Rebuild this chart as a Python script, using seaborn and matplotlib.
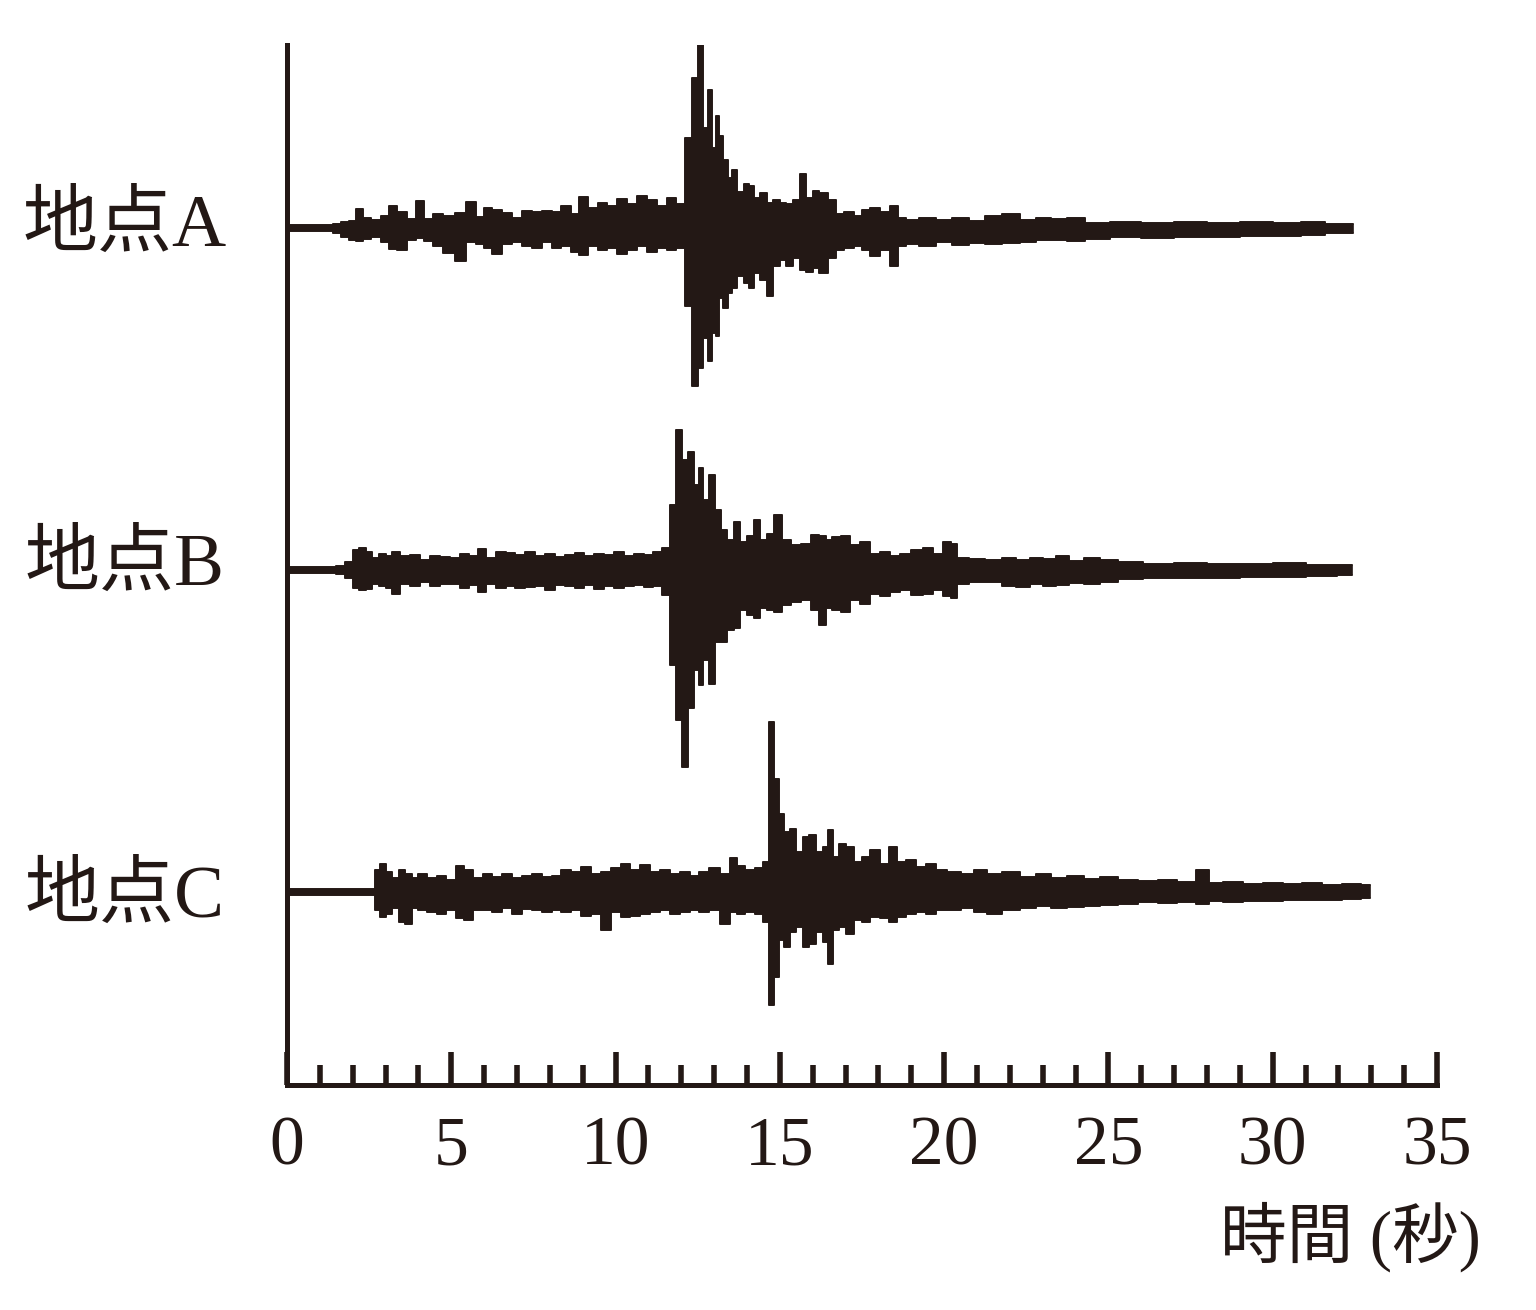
import matplotlib
matplotlib.use("Agg")
import matplotlib.pyplot as plt
import numpy as np
import seaborn as sns
from matplotlib.ticker import MultipleLocator

# seismogram envelopes: time (s), amplitude above / below the trace line
stations = ["地点A", "地点B", "地点C"]
baselines = [857, 515, 193]

a_t = [0, 1.3, 1.5, 1.8, 2.0, 2.2, 2.4, 2.7, 3.0, 3.2, 3.5, 3.8, 4.05, 4.3, 4.6, 4.9, 5.3, 5.6, 5.9,
       6.1, 6.4, 6.7, 7.0, 7.3, 7.6, 7.9, 8.2, 8.5, 8.8, 9.0, 9.3, 9.6, 9.9, 10.2, 10.5, 10.8, 11.1,
       11.4, 11.7, 12.0, 12.25, 12.4, 12.6, 12.75, 12.85, 13.0, 13.1, 13.2, 13.35, 13.5, 13.6, 13.8,
       14.0, 14.1, 14.3, 14.5, 14.7, 14.9, 15.1, 15.3, 15.5, 15.7, 15.9, 16.1, 16.3, 16.6, 16.8,
       17.1, 17.4, 17.6, 17.9, 18.2, 18.5, 18.7, 19.0, 19.5, 20.0, 20.5, 21.0, 21.5, 22.0, 22.6,
       23.0, 23.5, 24.0, 24.6, 25.5, 26.5, 27.5, 28.5, 29.5, 30.5, 31.2, 32.0, 32.45]
a_up = [3, 3, 4, 6, 7, 19, 10, 8, 12, 22, 16, 9, 27, 9, 14, 12, 15, 26, 11,
        20, 18, 15, 10, 17, 16, 17, 16, 22, 14, 31, 20, 25, 22, 29, 24, 32, 28,
        22, 30, 24, 90, 150, 202, 100, 138, 80, 112, 92, 68, 50, 58, 36,
        44, 42, 30, 35, 25, 28, 25, 24, 28, 54, 30, 37, 35, 28, 14,
        16, 12, 18, 20, 16, 22, 10, 8, 10, 8, 10, 7, 12, 14, 8,
        10, 9, 10, 5, 6, 5, 6, 5, 6, 5, 6, 4, 4]
a_dn = [3, 3, 5, 9, 12, 13, 11, 9, 14, 21, 22, 12, 10, 13, 18, 25, 33, 14, 16,
        20, 26, 16, 14, 18, 20, 14, 20, 18, 24, 27, 18, 22, 20, 26, 22, 18, 24,
        20, 22, 20, 78, 158, 140, 110, 133, 105, 108, 70, 80, 65, 60, 48,
        55, 60, 45, 52, 68, 38, 32, 38, 30, 42, 44, 40, 45, 30, 22,
        20, 18, 22, 28, 22, 38, 18, 16, 18, 14, 17, 15, 16, 15, 14,
        12, 12, 13, 11, 9, 10, 9, 9, 8, 8, 7, 5, 5]

b_t = [0, 1.4, 1.6, 1.9, 2.1, 2.3, 2.5, 2.7, 2.9, 3.1, 3.3, 3.6, 3.9, 4.2, 4.5, 4.8, 5.1, 5.4, 5.7,
       5.9, 6.2, 6.5, 6.8, 7.1, 7.4, 7.7, 8.0, 8.3, 8.6, 8.9, 9.2, 9.5, 9.8, 10.1, 10.4, 10.7, 11.0,
       11.3, 11.55, 11.75, 11.95, 12.1, 12.3, 12.45, 12.6, 12.75, 12.95, 13.1, 13.3, 13.5, 13.7,
       13.9, 14.1, 14.3, 14.5, 14.7, 14.95, 15.2, 15.5, 15.8, 16.1, 16.3, 16.5, 16.7, 17.0, 17.3,
       17.6, 17.9, 18.2, 18.5, 18.8, 19.2, 19.5, 19.8, 20.1, 20.3, 20.5, 21.0, 21.5, 22.0, 22.4,
       22.8, 23.2, 23.6, 24.0, 24.5, 25.0, 25.6, 26.5, 27.5, 28.5, 29.5, 30.5, 31.5, 32.4]
b_up = [3, 3, 4, 8, 20, 22, 18, 12, 16, 14, 18, 14, 15, 10, 14, 13, 12, 16, 14,
        21, 12, 18, 17, 15, 18, 14, 16, 13, 15, 17, 14, 16, 15, 18, 14, 16, 15,
        18, 22, 65, 140, 110, 118, 85, 102, 70, 95, 60, 40, 30, 48,
        28, 34, 50, 30, 36, 55, 30, 25, 26, 35, 34, 30, 33, 34, 25,
        28, 16, 18, 14, 16, 20, 22, 16, 28, 26, 12, 11, 10, 12, 10,
        12, 11, 14, 9, 12, 10, 8, 6, 7, 6, 6, 7, 5, 5]
b_dn = [3, 3, 4, 8, 18, 20, 19, 14, 16, 18, 24, 14, 16, 12, 16, 14, 14, 18, 15,
        22, 14, 18, 16, 18, 17, 16, 20, 15, 16, 18, 15, 19, 16, 18, 16, 15, 17,
        16, 25, 95, 150, 197, 138, 100, 115, 90, 114, 72, 72, 60, 58,
        40, 45, 48, 38, 40, 42, 35, 32, 30, 40, 55, 38, 40, 42, 30,
        34, 24, 26, 22, 20, 25, 24, 20, 26, 28, 14, 12, 12, 16, 17,
        14, 16, 15, 13, 14, 12, 9, 8, 8, 8, 7, 7, 6, 5]

c_t = [0, 2.6, 2.75, 2.9, 3.1, 3.3, 3.5, 3.7, 3.9, 4.1, 4.4, 4.7, 5.0, 5.3, 5.5, 5.8, 6.1, 6.4,
       6.7, 7.0, 7.3, 7.6, 7.9, 8.2, 8.5, 8.8, 9.1, 9.4, 9.7, 10.0, 10.3, 10.6, 10.9, 11.2, 11.5,
       11.8, 12.1, 12.4, 12.7, 13.0, 13.35, 13.6, 13.8, 14.1, 14.4, 14.6, 14.75, 14.9, 15.05, 15.2,
       15.4, 15.6, 15.8, 16.0, 16.2, 16.4, 16.55, 16.7, 16.9, 17.1, 17.4, 17.6, 17.9, 18.2, 18.45,
       18.7, 19.0, 19.3, 19.6, 19.9, 20.3, 20.7, 21.1, 21.5, 22.0, 22.6, 23.0, 23.5, 24.0, 24.5,
       25.0, 25.6, 26.2, 26.8, 27.4, 27.9, 28.2, 28.8, 29.4, 30.0, 30.6, 31.2, 31.8, 32.4, 32.95]
c_up = [3, 3, 22, 28, 20, 14, 22, 18, 14, 18, 14, 16, 12, 26, 22, 14, 18, 15,
        18, 14, 16, 18, 15, 16, 22, 20, 25, 18, 20, 24, 28, 22, 27, 20, 22,
        18, 20, 16, 20, 24, 18, 34, 26, 22, 24, 30, 170, 113, 78, 60,
        63, 40, 55, 57, 40, 45, 62, 35, 48, 45, 30, 35, 42, 28, 45,
        30, 32, 25, 28, 22, 20, 18, 22, 18, 20, 15, 18, 14, 16, 13,
        15, 12, 11, 12, 10, 22, 9, 10, 8, 9, 8, 9, 7, 8, 7]
c_dn = [3, 3, 18, 25, 22, 16, 30, 32, 16, 18, 20, 22, 18, 26, 28, 18, 18, 20,
        16, 22, 17, 18, 20, 18, 20, 18, 24, 22, 38, 20, 25, 24, 22, 20, 18,
        22, 20, 18, 20, 18, 32, 20, 22, 20, 22, 30, 113, 85, 48, 55,
        40, 35, 55, 52, 40, 50, 72, 38, 35, 42, 28, 30, 25, 26, 30,
        25, 22, 20, 22, 18, 18, 16, 20, 22, 18, 16, 14, 16, 15, 14,
        13, 12, 10, 11, 10, 12, 9, 10, 9, 9, 8, 8, 8, 7, 6]

traces = [(a_t, a_up, a_dn), (b_t, b_up, b_dn), (c_t, c_up, c_dn)]
major_ticks = [0, 5, 10, 15, 20, 25, 30, 35]

ink = "#231815"
sns.set_theme(style="white")
plt.rcParams["font.family"] = ["Liberation Serif", "Noto Sans CJK JP", "DejaVu Sans"]

fig = plt.figure(figsize=(15.36, 13.10), dpi=100)
ax = fig.add_axes([287 / 1536, 225 / 1310, 1150 / 1536, 1040 / 1310])

for (t, up, dn), base in zip(traces, baselines):
    t = np.array(t)
    hi = base + np.array(up)
    lo = base - np.array(dn)
    ax.fill_between(t, lo, hi, step="mid", color=ink, lw=1.2, edgecolor=ink)
    sns.lineplot(x=t, y=hi, ax=ax, color=ink, lw=1.2, drawstyle="steps-mid", estimator=None)
    sns.lineplot(x=t, y=lo, ax=ax, color=ink, lw=1.2, drawstyle="steps-mid", estimator=None)

ax.set_xlim(0, 35)
ax.set_ylim(0, 1040)
ax.set_xticks(major_ticks)
ax.xaxis.set_minor_locator(MultipleLocator(1))
ax.set_yticks([])
for side in ["top", "right"]:
    ax.spines[side].set_visible(False)
for side in ["left", "bottom"]:
    ax.spines[side].set_color(ink)
    ax.spines[side].set_linewidth(3.6)
ax.tick_params(axis="x", which="both", bottom=True, top=False)
ax.tick_params(axis="x", which="major", direction="in", length=23.5, width=4,
               color=ink, labelsize=50, labelcolor=ink, pad=22)
ax.tick_params(axis="x", which="minor", direction="in", length=14.5, width=4, color=ink)
for lab in ax.get_xticklabels():
    lab.set_family(["Liberation Serif"])

label_rows = [227, 566, 898]
for name, row in zip(stations, label_rows):
    fig.text(125 / 1536, 1 - row / 1310, name, ha="center", va="center",
             fontsize=54, color=ink)

fig.text(1350 / 1536, 1 - 1237 / 1310, "時間 (秒)", ha="center", va="center",
         fontsize=48, color=ink)

fig.savefig("out.png", dpi=100, facecolor="white")
